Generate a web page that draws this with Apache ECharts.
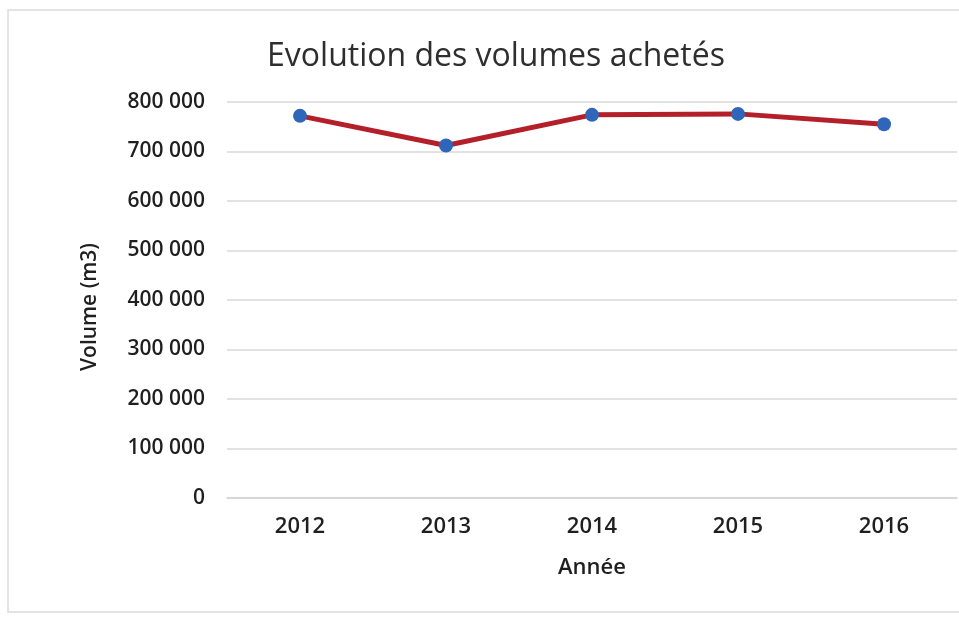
<!DOCTYPE html>
<html>
<head>
<meta charset="utf-8">
<script src="https://cdn.jsdelivr.net/npm/echarts@6/dist/echarts.min.js"></script>
<style>
  html, body { margin: 0; padding: 0; background: #fff; }
  #chart { width: 959px; height: 622px; }
</style>
</head>
<body>
<div id="chart"></div>
<script>
const years = ['2012', '2013', '2014', '2015', '2016'];
const volumes = [772000, 712000, 774000, 776000, 755000];
const yTicks = { min: 0, max: 800000, step: 100000 };

const chart = echarts.init(document.getElementById('chart'));

// nombres avec espace comme séparateur de milliers
const fmt = v => String(v).replace(/\B(?=(\d{3})+(?!\d))/g, ' ');

const option = {
  backgroundColor: '#fff',
  textStyle: { fontFamily: 'Open Sans' },
  title: {
    text: 'Evolution des volumes achetés',
    left: 491,
    top: 36,
    textAlign: 'center',
    textStyle: { fontSize: 32, fontWeight: 'normal', color: '#2e2e2e' }
  },
  graphic: [
    {
      type: 'rect',
      shape: { x: 8, y: 10, width: 960, height: 602 },
      style: { fill: 'none', stroke: '#dcdcdc', lineWidth: 1.5 },
      silent: true
    }
  ],
  grid: { left: 227, right: 2, top: 102, bottom: 124 },
  xAxis: {
    type: 'category',
    data: years,
    boundaryGap: true,
    name: 'Année',
    nameLocation: 'middle',
    nameGap: 59,
    nameTextStyle: { fontSize: 22, fontWeight: 600, color: '#1f1f1f' },
    axisLine: { lineStyle: { color: '#d4d4d4', width: 1.5 } },
    axisTick: { show: false },
    axisLabel: { fontSize: 22, fontWeight: 600, color: '#1f1f1f', margin: 18 }
  },
  yAxis: {
    type: 'value',
    min: yTicks.min,
    max: yTicks.max,
    interval: yTicks.step,
    name: 'Volume (m3)',
    nameLocation: 'middle',
    nameGap: 126,
    nameTextStyle: { fontSize: 21, fontWeight: 600, color: '#1f1f1f', padding: [0, 14, 0, 0] },
    axisLine: { show: false },
    axisTick: { show: false },
    splitLine: { lineStyle: { color: '#d9d9d9', width: 1.5 } },
    axisLabel: { fontSize: 21, fontWeight: 600, color: '#1f1f1f', margin: 22, formatter: fmt }
  },
  series: [
    {
      type: 'line',
      data: volumes,
      symbol: 'circle',
      symbolSize: 14,
      lineStyle: { color: '#b3202a', width: 5 },
      itemStyle: { color: '#2f66b9' },
      z: 3
    }
  ]
};

chart.setOption(option);
</script>
</body>
</html>
